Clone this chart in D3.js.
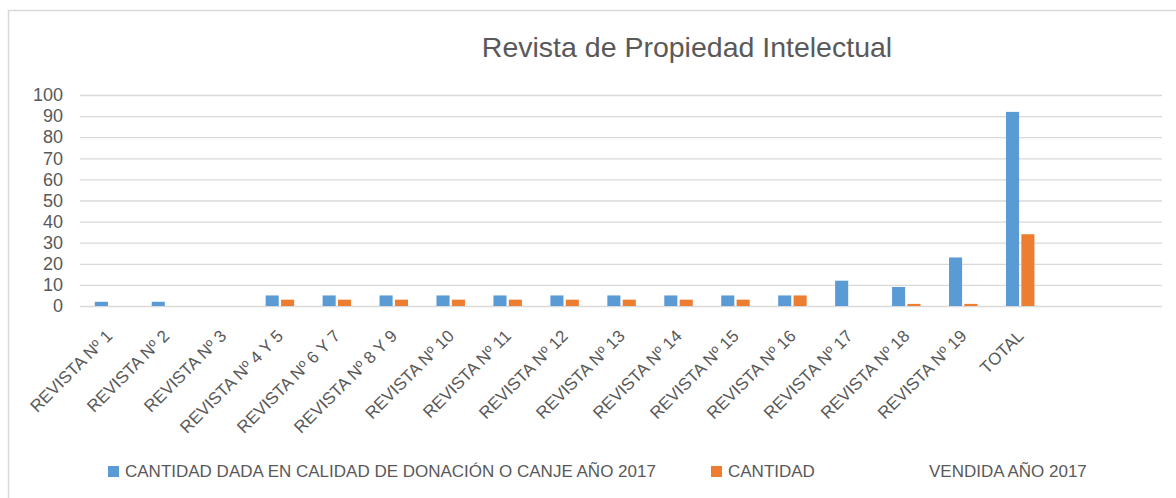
<!DOCTYPE html>
<html lang="es">
<head>
<meta charset="UTF-8">
<title>Revista de Propiedad Intelectual</title>
<script src="https://cdn.jsdelivr.net/npm/d3@7"></script>
<style>
  body { margin: 0; background: #fff; }
  text { font-family: "Liberation Sans", Arial, sans-serif; fill: #595959; }
</style>
</head>
<body>
<script>
// datos
var categories = ["REVISTA Nº 1", "REVISTA Nº 2", "REVISTA Nº 3", "REVISTA Nº 4 Y 5",
    "REVISTA Nº 6 Y 7", "REVISTA Nº 8 Y 9", "REVISTA Nº 10", "REVISTA Nº 11",
    "REVISTA Nº 12", "REVISTA Nº 13", "REVISTA Nº 14", "REVISTA Nº 15",
    "REVISTA Nº 16", "REVISTA Nº 17", "REVISTA Nº 18", "REVISTA Nº 19", "TOTAL"];
var donacion = [2, 2, 0, 5, 5, 5, 5, 5, 5, 5, 5, 5, 5, 12, 9, 23, 92];
var vendida = [0, 0, 0, 3, 3, 3, 3, 3, 3, 3, 3, 3, 5, 0, 1, 1, 34];
var seriesNames = ["CANTIDAD DADA EN CALIDAD DE DONACIÓN O CANJE AÑO 2017", "CANTIDAD\nVENDIDA AÑO 2017"];
var seriesColors = ["#5B9BD5", "#ED7D31"];
var yTicks = [0, 10, 20, 30, 40, 50, 60, 70, 80, 90, 100];
var emptySlots = 2; // la hoja tenia dos filas vacias al final

var W = 1176, H = 498;
var plotLeft = 80, plotRight = 1162, plotTop = 95, plotBottom = 306;

var svg = d3.select("body").append("svg")
    .attr("width", W)
    .attr("height", H);

// borde del grafico
svg.append("rect")
    .attr("x", 8.5).attr("y", 10.5)
    .attr("width", 1200).attr("height", 520)
    .attr("fill", "none")
    .attr("stroke", "#d9d9d9")
    .attr("stroke-width", 1.5);

svg.append("text")
    .attr("x", 687).attr("y", 57)
    .attr("text-anchor", "middle")
    .attr("font-size", "28.5px")
    .text("Revista de Propiedad Intelectual");

var slots = d3.range(categories.length + emptySlots);
var x0 = d3.scaleBand().domain(slots).range([plotLeft, plotRight]);
var x1 = d3.scaleBand().domain([0, 1])
    .range([x0.step() * 0.26, x0.step() * 0.76])
    .paddingInner(0.15);
var y = d3.scaleLinear().domain([0, 100]).range([plotBottom, plotTop]);

// rejilla + etiquetas del eje Y
var yAxis = svg.append("g")
    .attr("transform", "translate(" + plotLeft + ",0)")
    .call(d3.axisLeft(y).tickValues(yTicks).tickSize(-(plotRight - plotLeft)).tickPadding(17));
yAxis.select(".domain").remove();
yAxis.selectAll("line").attr("stroke", "#d9d9d9").attr("stroke-width", 1.3);
yAxis.selectAll("text")
    .attr("font-size", "18px")
    .attr("font-family", "Liberation Sans, Arial, sans-serif")
    .attr("fill", "#595959");

// barras
var rows = categories.map(function (c, i) {
    return { i: i, vals: [donacion[i], vendida[i]] };
});
var groups = svg.selectAll("g.cat")
    .data(rows)
    .enter().append("g")
    .attr("class", "cat")
    .attr("transform", function (d) { return "translate(" + x0(d.i) + ",0)"; });
groups.selectAll("rect")
    .data(function (d) { return d.vals.map(function (v, s) { return { s: s, v: v }; }); })
    .enter().append("rect")
    .attr("x", function (d) { return x1(d.s); })
    .attr("width", x1.bandwidth())
    .attr("y", function (d) { return y(d.v); })
    .attr("height", function (d) { return y(0) - y(d.v); })
    .attr("fill", function (d) { return seriesColors[d.s]; });

// etiquetas de categoria giradas
svg.selectAll("text.cat")
    .data(categories)
    .enter().append("text")
    .attr("class", "cat")
    .attr("text-anchor", "end")
    .attr("font-size", "17px")
    .attr("transform", function (d, i) {
        var cx = x0(i) + x0.bandwidth() / 2 + 5;
        return "translate(" + cx + "," + 337 + ") rotate(-45)";
    })
    .text(function (d) { return d; });

// leyenda
var legend = svg.append("g");
var legendX = [108, 711];
seriesNames.forEach(function (name, s) {
    legend.append("rect")
        .attr("x", legendX[s]).attr("y", 466)
        .attr("width", 11).attr("height", 11)
        .attr("fill", seriesColors[s]);
    var parts = name.split("\n");
    legend.append("text")
        .attr("x", legendX[s] + 17).attr("y", 477)
        .attr("font-size", "17px")
        .text(parts[0]);
    if (parts[1]) {
        legend.append("text")
            .attr("x", 929).attr("y", 477)
            .attr("font-size", "17px")
            .text(parts[1]);
    }
});
</script>
</body>
</html>
